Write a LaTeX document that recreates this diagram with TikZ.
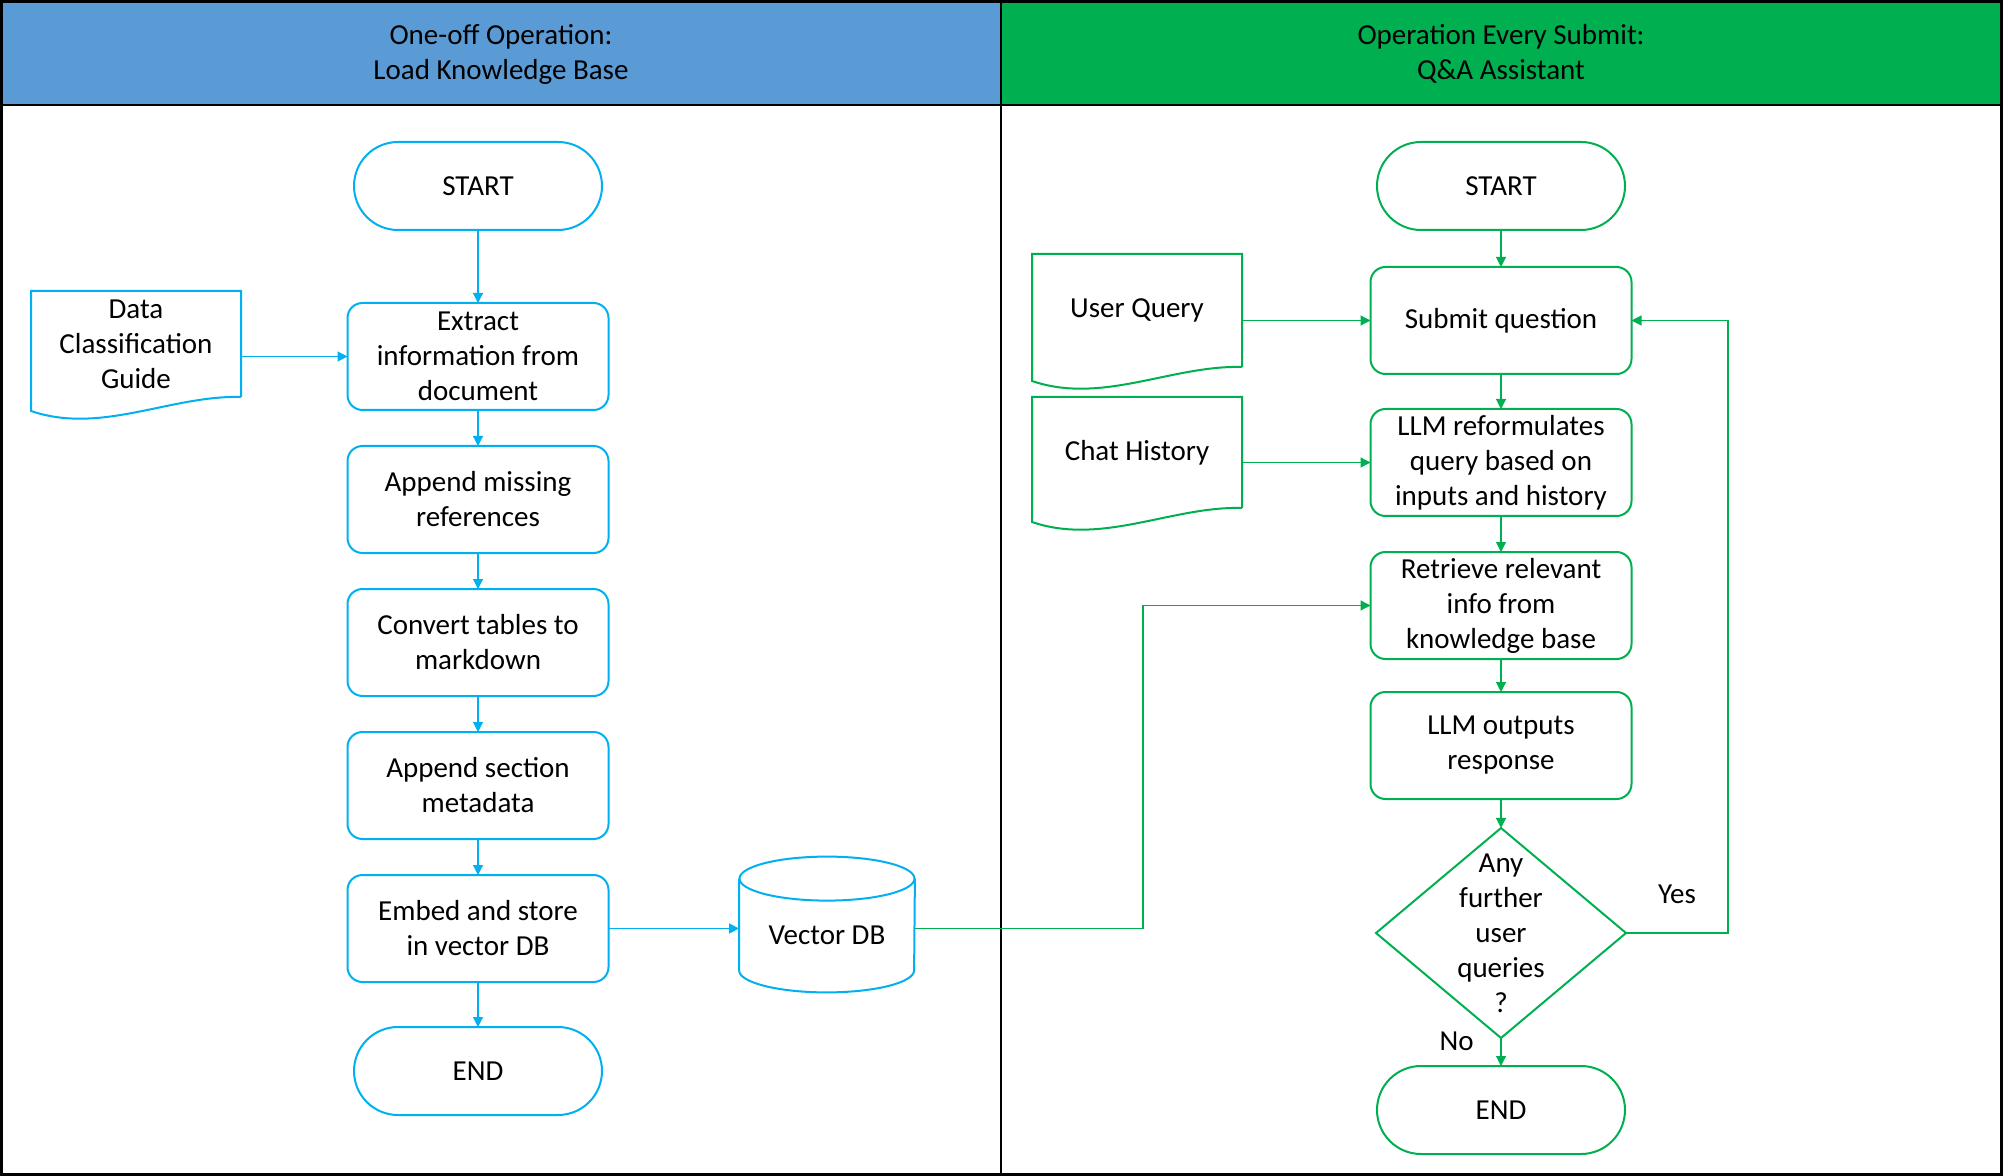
\documentclass[tikz,border=0pt]{standalone}
\usepackage{fontspec}
\setmainfont{Carlito}
\usetikzlibrary{arrows.meta,positioning,shapes.geometric}
\definecolor{SkyLine}{HTML}{00B0F0}
\definecolor{LeafLine}{HTML}{00B050}
\definecolor{HeadBlue}{HTML}{5B9BD5}
% outline of a document symbol round a node
\newcommand{\docshape}[1]{%
  \draw[line width=1pt] (#1.south east) -- (#1.north east) -- (#1.north west) -- ([yshift=-7pt]#1.south west)
    .. controls ([xshift=35pt,yshift=-19pt]#1.south west) and ([xshift=-35pt,yshift=1pt]#1.south east) .. (#1.south east);}
\tikzset{
  every node/.style={font=\fontsize{14.5pt}{17.5pt}\selectfont, text=black},
  procbox/.style={draw, rounded corners=7.5pt, line width=1pt, outer sep=0pt, minimum width=130.5pt, minimum height=53.5pt, align=center, inner sep=2pt},
  termbox/.style={draw, rounded corners=22pt, line width=1pt, outer sep=0pt, minimum width=124pt, minimum height=44pt},
  docbox/.style={minimum width=105pt, align=center, inner sep=0pt, outer sep=0pt},
  decision/.style={draw, diamond, line width=1pt, outer sep=0pt, minimum width=125pt, minimum height=105pt, inner xsep=0pt, inner ysep=-20pt, align=center},
  flow/.style={-{Triangle[length=5pt,width=5pt]}, line width=0.6pt},
}

\begin{document}
\begin{tikzpicture}[x=0.5pt,y=-0.5pt]
\useasboundingbox (0,0) rectangle (2003,1176);
% the two lanes
\fill[HeadBlue] (0,0) rectangle (1001,105);
\fill[LeafLine] (1001,0) rectangle (2003,105);
\draw[line width=1.4pt] (1.5,1.5) rectangle (2001.5,1174.5);
\draw[line width=1.4pt] (0,105) -- (2003,105) (1001,0) -- (1001,1176);
\node[align=center] (lefthead) at (501,54) {One-off Operation:\\Load Knowledge Base};
\node[align=center] (righthead) at (1501,54) {Operation Every Submit:\\Q\&A Assistant};

% load knowledge base
\begin{scope}[SkyLine]
  \node[termbox] (lstart) at (478,186) {START};
  \node[procbox, below=36.5pt of lstart] (extract) {Extract\\information from\\document};
  \node[procbox, below=18pt of extract] (missref) {Append missing\\references};
  \node[procbox, below=18pt of missref] (tables) {Convert tables to\\markdown};
  \node[procbox, below=18pt of tables] (secmeta) {Append section\\metadata};
  \node[procbox, below=18pt of secmeta] (embed) {Embed and store\\in vector DB};
  \node[termbox, below=22.5pt of embed] (lend) {END};

  \node[docbox, minimum height=53pt] (guide) at (136,344) {Data\\Classification\\Guide};
  \docshape{guide}

  \node[minimum width=87.5pt, minimum height=56.5pt, inner sep=0pt] (vdb) at (827,935.5) {Vector DB};
  \draw[line width=1pt] (vdb.north west) -- ([yshift=11pt]vdb.south west)
    arc[start angle=180, end angle=360, x radius=43.75pt, y radius=11pt] -- (vdb.north east);
  \draw[line width=1pt] (vdb.north) ellipse[x radius=43.75pt, y radius=11pt];

  \draw[flow] (lstart) -- (extract);
  \draw[flow] (extract) -- (missref);
  \draw[flow] (missref) -- (tables);
  \draw[flow] (tables) -- (secmeta);
  \draw[flow] (secmeta) -- (embed);
  \draw[flow] (embed) -- (lend);
  \draw[flow] (guide.east |- extract.west) -- (extract.west);
  \draw[flow] (embed.east) -- (embed.east -| vdb.west);
\end{scope}

% q&a assistant
\begin{scope}[LeafLine]
  \node[termbox] (rstart) at (1501,186) {START};
  \node[procbox, below=18.5pt of rstart] (submit) {Submit question};
  \node[procbox, below=17.5pt of submit] (reform) {LLM reformulates\\query based on\\inputs and history};
  \node[procbox, below=18pt of reform] (retrieve) {Retrieve relevant\\info from\\knowledge base};
  \node[procbox, below=16.5pt of retrieve] (outputs) {LLM outputs\\response};
  \node[decision, below=14.5pt of outputs] (further) {Any\\further\\user\\queries\\?};
  \node[termbox, below=14pt of further] (rend) {END};

  \node[docbox, minimum height=56.5pt] (userq) at (1137,310.5) {User Query};
  \docshape{userq}
  \node[docbox, minimum height=55.5pt] (chathist) at (1137,452.5) {Chat History};
  \docshape{chathist}

  \draw[flow] (rstart) -- (submit);
  \draw[flow] (submit) -- (reform);
  \draw[flow] (reform) -- (retrieve);
  \draw[flow] (retrieve) -- (outputs);
  \draw[flow] (outputs) -- (further);
  \draw[flow] (further.south) -- node[pos=0.1, left=10pt] (nolbl) {No} (rend.north);
  \draw[flow] (further.east) -- node[above=11pt] (yeslbl) {Yes} ++(51pt,0) |- (submit.east);
  \draw[flow] (userq.east |- submit.west) -- (submit.west);
  \draw[flow] (chathist.east |- reform.west) -- (reform.west);
  \draw[flow] (vdb.east |- embed.east) -- ++(114pt,0) |- (retrieve.west);
\end{scope}
\end{tikzpicture}
\end{document}
